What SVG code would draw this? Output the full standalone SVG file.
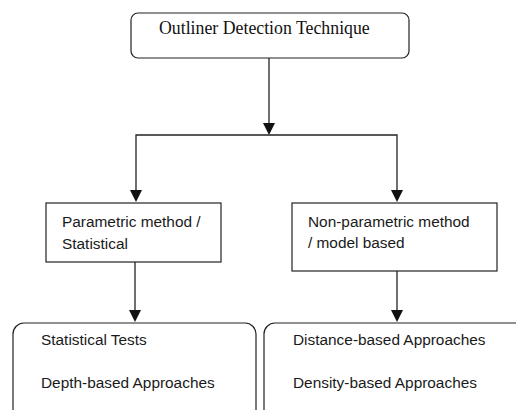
<svg xmlns="http://www.w3.org/2000/svg" width="516" height="410" viewBox="0 0 516 410">
<defs>
<style>
.box{fill:#fff;stroke:#222;stroke-width:1.2}
.line{fill:none;stroke:#222;stroke-width:1.3}
.head{fill:#111}
.serif{font-family:"Liberation Serif","Times New Roman",serif;font-size:17.8px;fill:#111}
.sans{font-family:"Liberation Sans",Arial,sans-serif;font-size:15.4px;fill:#1a1a1a}
</style>
</defs>
<rect width="516" height="410" fill="#fff"/>
<g id="connectors">
<line class="line" x1="269" y1="58" x2="269" y2="124"/>
<path class="head" d="M263,123 L275,123 L269,135 Z"/>
<polyline class="line" points="136,191 136,135 397,135 397,191"/>
<path class="head" d="M130,190 L142,190 L136,202 Z"/>
<path class="head" d="M391,190 L403,190 L397,202 Z"/>
<line class="line" x1="135" y1="262" x2="135" y2="311"/>
<path class="head" d="M129,310 L141,310 L135,322 Z"/>
<line class="line" x1="397" y1="271" x2="397" y2="311"/>
<path class="head" d="M391,310 L403,310 L397,322 Z"/>
</g>
<g id="top">
<rect class="box" x="131" y="13" width="278" height="45" rx="7"/>
<text class="serif" x="159" y="34">Outliner Detection Technique</text>
</g>
<g id="parametric">
<rect class="box" x="46" y="203" width="175" height="59"/>
<text class="sans" x="62" y="227">Parametric method /</text>
<text class="sans" x="62" y="249">Statistical</text>
</g>
<g id="nonparametric">
<rect class="box" x="292" y="203" width="205" height="68"/>
<text class="sans" x="308" y="227">Non-parametric method</text>
<text class="sans" x="308" y="248">/ model based</text>
</g>
<g id="left-approaches">
<rect class="box" x="13" y="323" width="243" height="110" rx="11"/>
<text class="sans" x="41" y="345">Statistical Tests</text>
<text class="sans" x="41" y="388">Depth-based Approaches</text>
</g>
<g id="right-approaches">
<rect class="box" x="264" y="323" width="270" height="110" rx="11"/>
<text class="sans" x="293" y="345">Distance-based Approaches</text>
<text class="sans" x="293" y="388">Density-based Approaches</text>
</g>
</svg>
